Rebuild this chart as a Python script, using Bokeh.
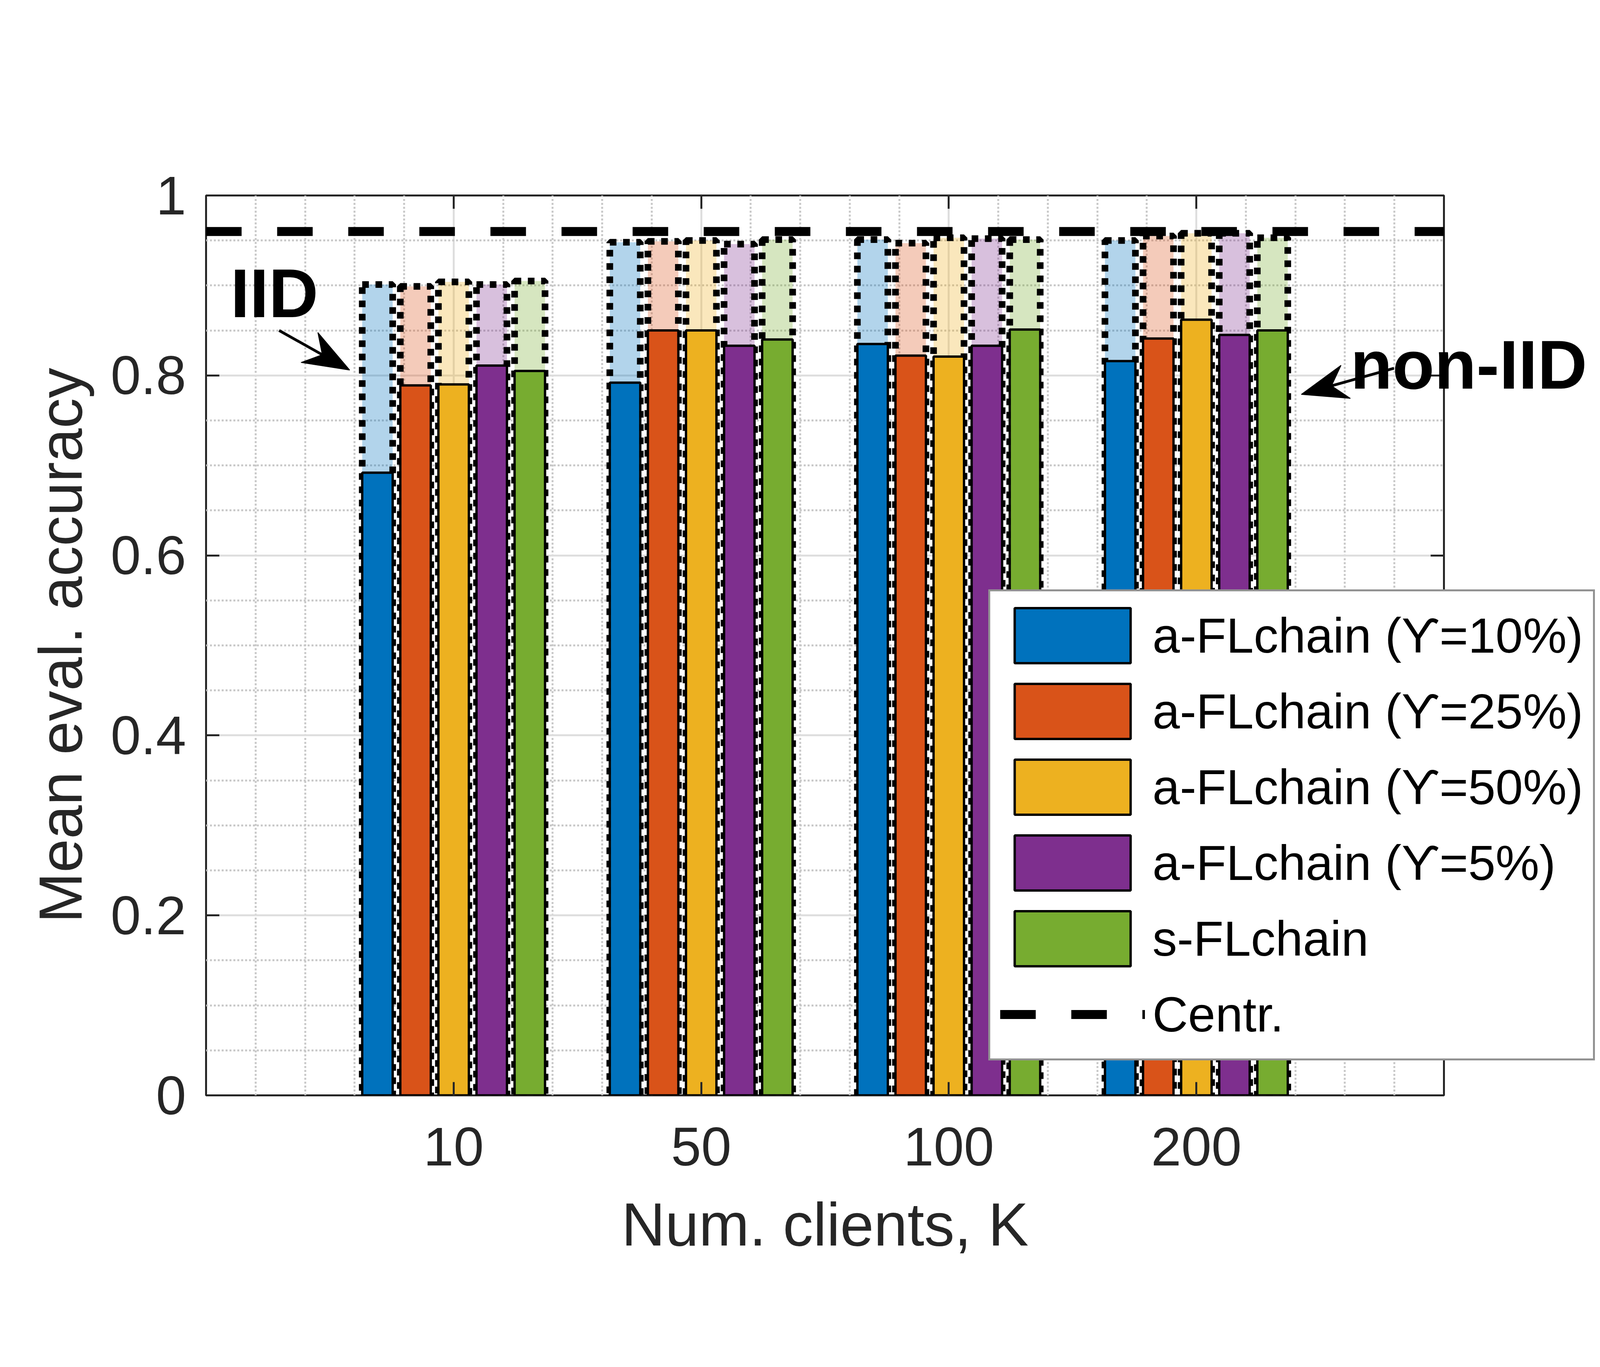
import math
from bokeh.plotting import figure
from bokeh.models import (FixedTicker, LinearAxis, Legend, LegendItem, Range1d)
from bokeh.embed import file_html
from bokeh.resources import INLINE

# ---------------- data ----------------
K_labels = ["10", "50", "100", "200"]
series_names = ["a-FLchain (\u03d2=10%)", "a-FLchain (\u03d2=25%)",
                "a-FLchain (\u03d2=50%)", "a-FLchain (\u03d2=5%)", "s-FLchain"]
colors = ["#0072BD", "#D95319", "#EDB120", "#7E2F8E", "#77AC30"]

# IID (pale bars, dotted outline)
iid_u10 = [0.901, 0.948, 0.951, 0.950]
iid_u25 = [0.899, 0.949, 0.947, 0.955]
iid_u50 = [0.904, 0.950, 0.953, 0.958]
iid_u5 = [0.901, 0.946, 0.952, 0.958]
iid_s = [0.905, 0.951, 0.951, 0.953]

# non-IID (solid bars)
noniid_u10 = [0.692, 0.792, 0.835, 0.816]
noniid_u25 = [0.789, 0.850, 0.822, 0.841]
noniid_u50 = [0.790, 0.850, 0.821, 0.862]
noniid_u5 = [0.811, 0.833, 0.833, 0.845]
noniid_s = [0.805, 0.840, 0.851, 0.850]

centr_acc = 0.960

y_ticks = [0, 0.2, 0.4, 0.6, 0.8, 1]
y_tick_labels = ["0", "0.2", "0.4", "0.6", "0.8", "1"]

iid_values = [iid_u10, iid_u25, iid_u50, iid_u5, iid_s]
noniid_values = [noniid_u10, noniid_u25, noniid_u50, noniid_u5, noniid_s]

# ---------------- layout ----------------
S = 4096 / 4858          # CSS px per screenshot px


def u(v):
    return int(round(v * S))


X_LO, X_HI = 0, len(K_labels) + 1
group_pos = list(range(1, len(K_labels) + 1))
n_series = len(series_names)
group_width = min(0.8, n_series / (n_series + 1.5))
step = group_width / n_series
bar_w = 0.8 * step

FONT = "Liberation Sans"
AX_COL = "#262626"
FL, FT = 527, 213        # frame left / top inside the figure
FW, FH = 3169, 2304      # frame size

p = figure(frame_width=FW, frame_height=FH,
           min_border_left=FL, min_border_right=384,
           min_border_top=FT, min_border_bottom=418,
           x_range=Range1d(X_LO, X_HI), y_range=Range1d(0, 1),
           output_backend="svg", toolbar_location=None)
p.outline_line_color = AX_COL
p.outline_line_width = u(6)
p.background_fill_color = "white"
p.border_fill_color = "white"

xticker = FixedTicker(ticks=group_pos,
                      minor_ticks=[round(k * 0.2, 1) for k in range(1, 5 * X_HI) if k % 5 != 0])
yticker = FixedTicker(ticks=y_ticks,
                      minor_ticks=[round(k * 0.05, 2) for k in range(1, 20) if k % 4 != 0])

xax = p.below[0]
yax = p.left[0]
xax.ticker = xticker
yax.ticker = yticker
xax.major_label_overrides = {g: lab for g, lab in zip(group_pos, K_labels)}
yax.major_label_overrides = {t: lab for t, lab in zip(y_ticks, y_tick_labels)}

xtop = LinearAxis(ticker=xticker)
xtop.major_label_overrides = {g: "" for g in group_pos}
yright = LinearAxis(ticker=yticker)
yright.major_label_overrides = {t: "" for t in y_ticks}
p.add_layout(xtop, "above")
p.add_layout(yright, "right")

for ax in [xax, yax, xtop, yright]:
    ax.axis_line_color = None
    ax.major_tick_in = u(40)
    ax.major_tick_out = 0
    ax.minor_tick_in = 0
    ax.minor_tick_out = 0
    ax.major_tick_line_width = u(6)
    ax.major_tick_line_color = AX_COL
    ax.minor_tick_line_color = None
    ax.major_label_text_font = FONT
    ax.major_label_text_font_size = f"{u(165)}px"
    ax.major_label_text_color = AX_COL
    ax.axis_label_text_font = FONT
    ax.axis_label_text_font_size = f"{u(184)}px"
    ax.axis_label_text_font_style = "normal"
    ax.axis_label_text_color = AX_COL

for ax in [xtop, yright]:
    ax.major_label_standoff = 0
    ax.major_label_text_font_size = "0px"

xax.major_label_standoff = u(98)
xax.axis_label = "Num. clients, K"
xax.axis_label_standoff = u(73)
yax.major_label_standoff = u(60)
yax.axis_label = "Mean eval. accuracy"
yax.axis_label_standoff = u(45)

for g, tk in [(p.xgrid[0], xticker), (p.ygrid[0], yticker)]:
    g.ticker = tk
    g.grid_line_color = "#DEDEDE"
    g.grid_line_width = u(6)
    g.minor_grid_line_color = "#C8C8C8"
    g.minor_grid_line_width = u(6)
    g.minor_grid_line_dash = f"{u(6)} {u(6)}"

# ---------------- bars ----------------
legend_items = []
for j in range(n_series):
    xs = [g + (j - (n_series - 1) / 2) * step for g in group_pos]
    p.vbar(x=xs, top=iid_values[j], bottom=0, width=bar_w,
           fill_color=colors[j], fill_alpha=0.3,
           line_color="black", line_width=u(20), line_dash=f"{u(20)} {u(20)}")
for j in range(n_series):
    xs = [g + (j - (n_series - 1) / 2) * step for g in group_pos]
    r = p.vbar(x=xs, top=noniid_values[j], bottom=0, width=bar_w,
               fill_color=colors[j], line_color="black", line_width=u(7))
    legend_items.append(LegendItem(label=series_names[j], renderers=[r]))

rc = p.line(x=[X_LO, X_HI], y=[centr_acc, centr_acc], line_color="black",
            line_width=u(27), line_dash=f"{u(108)} {u(108)}")
legend_items.append(LegendItem(label="Centr.", renderers=[rc]))

# ---------------- annotation arrows (shaft + vee head) ----------------
px_x = FW / (X_HI - X_LO)   # pixels per x unit
px_y = FH / 1.0             # pixels per y unit


def draw_arrow(x0, y0, x1, y1, head_len=u(140), head_w=u(104), notch=0.68):
    dxp, dyp = (x1 - x0) * px_x, (y1 - y0) * px_y
    d = math.hypot(dxp, dyp)
    ux, uy = dxp / d, dyp / d
    nx, ny = -uy, ux
    pts = [(0, 0), (-head_len, head_w / 2), (-head_len * notch, 0), (-head_len, -head_w / 2)]
    hx = [x1 + (a * ux + b * nx) / px_x for a, b in pts]
    hy = [y1 + (a * uy + b * ny) / px_y for a, b in pts]
    sx1 = x1 - head_len * notch * ux / px_x
    sy1 = y1 - head_len * notch * uy / px_y
    p.segment(x0=[x0], y0=[y0], x1=[sx1], y1=[sy1], line_color="black", line_width=u(8))
    p.patch(hx, hy, fill_color="black", line_color="black", line_width=2)


draw_arrow(0.295, 0.850, 0.580, 0.806)
draw_arrow(4.798, 0.808, 4.424, 0.779)

# ---------------- main legend (side panel so it may overhang the axes box) ----------------
leg_left = u(2300)                     # legend left, measured from the frame's left edge
legend = Legend(items=legend_items, location=(leg_left - FW, u(106)),
                glyph_width=u(440), glyph_height=u(209), label_height=u(209),
                spacing=u(21), padding=u(30), margin=0, label_standoff=u(23),
                label_text_font=FONT, label_text_font_size=f"{u(150)}px",
                label_text_color="black",
                border_line_color=AX_COL, border_line_width=u(6),
                background_fill_color="white", background_fill_alpha=1)
p.add_layout(legend, "right")

# ---------------- free text labels "IID" / "non-IID" ----------------
ghost = p.line(x=[], y=[], line_alpha=0)
TXT_H = u(240)


def text_legend(txt, x, y):
    return Legend(items=[LegendItem(label=txt, renderers=[ghost])], location=(x, y),
                  glyph_width=1, glyph_height=TXT_H, label_height=TXT_H,
                  padding=0, margin=0, spacing=0, label_standoff=0,
                  label_text_font=FONT, label_text_font_size=f"{u(209)}px",
                  label_text_font_style="bold", label_text_color="black",
                  border_line_color=None, background_fill_alpha=0)


p.add_layout(text_legend("IID", u(74), u(2315)))
# "non-IID" overhangs the axes box: put it in the top panel and shift it down
noniid_bottom = FH - u(2215)           # bottom of its box, measured from the frame top
p.add_layout(text_legend("non-IID", u(3474), -noniid_bottom), "above")

open("out.html", "w").write(file_html(p, INLINE))
